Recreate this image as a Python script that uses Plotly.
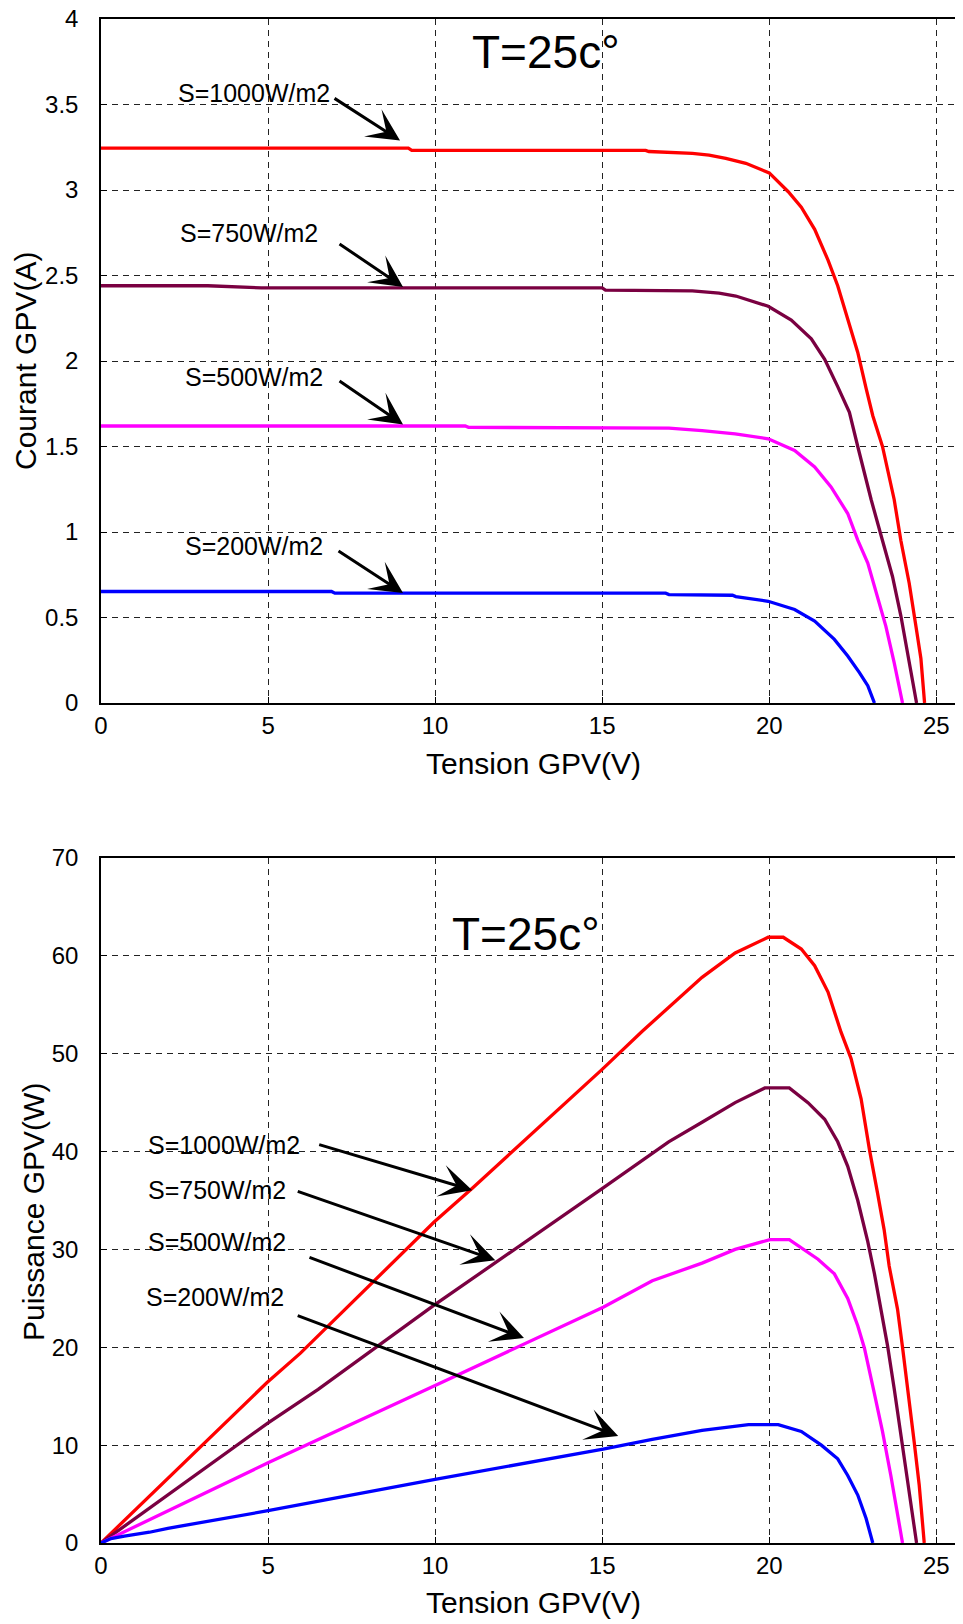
import plotly.graph_objects as go

# ---------------- I-V data (Courant vs Tension) ----------------
V_iv_1000 = [0, 9.2, 9.3, 16.3, 16.4, 17.7, 18.2, 18.7, 19.3, 20.0, 20.57, 20.96, 21.36, 21.76,
             22.05, 22.35, 22.65, 22.9, 23.1, 23.39, 23.74, 23.94, 24.19, 24.39, 24.54, 24.65]
I_1000 = [3.245, 3.245, 3.232, 3.232, 3.225, 3.214, 3.204, 3.185, 3.156, 3.10, 2.99, 2.90, 2.77, 2.59,
          2.44, 2.24, 2.05, 1.84, 1.68, 1.50, 1.19, 0.95, 0.70, 0.45, 0.26, 0.0]

V_iv_750 = [0, 3.2, 4.8, 15.0, 15.1, 17.7, 18.5, 19.0, 19.97, 20.66, 21.26, 21.66, 22.05, 22.4,
            22.65, 23.05, 23.39, 23.69, 23.94, 24.14, 24.41]
I_750 = [2.44, 2.44, 2.428, 2.428, 2.415, 2.41, 2.397, 2.38, 2.32, 2.24, 2.13, 2.01, 1.85, 1.70,
         1.50, 1.19, 0.95, 0.74, 0.51, 0.30, 0.0]

V_iv_500 = [0, 10.9, 11.0, 17.0, 17.99, 18.98, 19.97, 20.76, 21.36, 21.85, 22.35, 22.65, 22.95,
            23.24, 23.49, 23.74, 23.99]
I_500 = [1.62, 1.62, 1.612, 1.608, 1.593, 1.574, 1.545, 1.477, 1.38, 1.264, 1.108, 0.953, 0.818,
         0.624, 0.45, 0.236, 0.0]

V_iv_200 = [0, 6.9, 7.0, 16.9, 17.0, 18.9, 19.0, 19.97, 20.76, 21.36, 21.95, 22.35, 22.7, 22.95, 23.15]
I_200 = [0.652, 0.652, 0.642, 0.642, 0.634, 0.63, 0.622, 0.595, 0.547, 0.479, 0.372, 0.275, 0.178,
         0.101, 0.0]

# ---------------- P-V data (Puissance vs Tension) ----------------
V_pv_1000 = [0, 4.97, 5.97, 6.6, 9.97, 11.13, 14.03, 15.0, 16.2, 16.99, 17.99, 18.98, 19.97, 20.42,
             20.96, 21.36, 21.76, 22.15, 22.45, 22.75, 23.0, 23.24, 23.44, 23.59, 23.84, 23.99, 24.19,
             24.34, 24.49, 24.64]
P_1000 = [0, 16.4, 19.4, 21.5, 32.8, 36.3, 45.3, 48.4, 52.3, 54.7, 57.8, 60.3, 61.9, 61.9,
          60.7, 59.0, 56.3, 52.2, 49.5, 45.4, 40.2, 35.8, 32.0, 28.3, 23.9, 20.0, 14.8,
          10.3, 5.9, 0.0]

V_pv_750 = [0, 4.97, 6.5, 9.97, 15.03, 16.5, 16.99, 17.99, 18.98, 19.87, 20.6, 21.16, 21.66, 22.05,
            22.35, 22.65, 22.95, 23.15, 23.34, 23.54, 23.74, 23.94, 24.14, 24.29, 24.41]
P_750 = [0, 12.2, 15.7, 24.3, 36.3, 39.9, 41.0, 43.0, 45.0, 46.5, 46.5, 45.0, 43.3, 41.0,
         38.5, 35.0, 30.8, 27.5, 23.9, 20.2, 15.8, 11.0, 6.6, 3.2, 0.0]

V_pv_500 = [0, 5.0, 10.0, 15.03, 16.5, 17.99, 18.98, 20.02, 20.6, 21.46, 21.95, 22.35, 22.65, 22.85,
            23.14, 23.39, 23.64, 23.84, 23.99]
P_500 = [0, 8.2, 16.1, 24.1, 26.8, 28.6, 30.0, 31.0, 31.0, 29.0, 27.5, 25.0, 22.2, 19.9,
         15.4, 11.4, 6.9, 3.2, 0.0]

V_pv_200 = [0, 0.3, 0.7, 1.45, 2.0, 5.0, 10.0, 15.03, 16.5, 17.99, 19.38, 20.27, 20.96, 21.56,
            22.05, 22.35, 22.65, 22.9, 23.1]
P_200 = [0, 0.45, 0.7, 1.1, 1.5, 3.3, 6.5, 9.6, 10.6, 11.5, 12.1, 12.1, 11.4, 10.0,
         8.6, 6.9, 4.9, 2.5, 0.0]

labels = ["S=1000W/m2", "S=750W/m2", "S=500W/m2", "S=200W/m2"]
colors = ["#ff0000", "#7a0041", "#ff00ff", "#0000ff"]
x_ticks = [0, 5, 10, 15, 20, 25]
y1_ticks = [0, 0.5, 1, 1.5, 2, 2.5, 3, 3.5, 4]
y1_ticktext = ["0", "0.5", "1", "1.5", "2", "2.5", "3", "3.5", "4"]
y2_ticks = [0, 10, 20, 30, 40, 50, 60, 70]

FONT = "Liberation Sans, Arial, sans-serif"

fig = go.Figure()

iv_sets = [(V_iv_1000, I_1000), (V_iv_750, I_750), (V_iv_500, I_500), (V_iv_200, I_200)]
pv_sets = [(V_pv_1000, P_1000), (V_pv_750, P_750), (V_pv_500, P_500), (V_pv_200, P_200)]

for (vx, iy), c, lab in zip(iv_sets, colors, labels):
    fig.add_trace(go.Scatter(x=vx, y=iy, mode="lines", name=lab,
                             line=dict(color=c, width=3.3), xaxis="x", yaxis="y",
                             showlegend=False))
for (vx, py), c, lab in zip(pv_sets, colors, labels):
    fig.add_trace(go.Scatter(x=vx, y=py, mode="lines", name=lab,
                             line=dict(color=c, width=3.3), xaxis="x2", yaxis="y2",
                             showlegend=False))

# The page body has an 8px margin, so layout positions are offset by -8px
W, H = 963, 1624
OFF = 8
L = 101 - OFF
R = 963 - OFF
top1, bot1 = 19 - OFF, 703 - OFF
top2, bot2 = 858 - OFF, 1543 - OFF

grid = dict(showgrid=True, gridcolor="#222222", gridwidth=1, griddash="6px,5px",
            showline=True, linecolor="black", linewidth=1.5, zeroline=False,
            ticks="inside", ticklen=6, tickcolor="black", automargin=False,
            ticklabeloverflow="allow",
            tickfont=dict(family=FONT, size=24, color="black"))

fig.update_layout(
    width=W, height=H,
    margin=dict(l=0, r=0, t=0, b=0),
    paper_bgcolor="white", plot_bgcolor="white",
    showlegend=False,
    xaxis=dict(domain=[L / W, R / W], range=[0, 25.8], anchor="y", tickvals=x_ticks,
               mirror=True, ticklabelstandoff=0, **grid),
    yaxis=dict(domain=[1 - bot1 / H, 1 - top1 / H], range=[0, 4], anchor="x",
               tickvals=y1_ticks, ticktext=y1_ticktext, ticklabelstandoff=16, **grid),
    xaxis2=dict(domain=[L / W, R / W], range=[0, 25.8], anchor="y2", tickvals=x_ticks,
                mirror=True, ticklabelstandoff=0, **grid),
    yaxis2=dict(domain=[1 - bot2 / H, 1 - top2 / H], range=[0, 70], anchor="x2",
                tickvals=y2_ticks, ticklabelstandoff=16, **grid),
)

ann = []
# Axis titles
ann.append(dict(text="Courant GPV(A)", x=(26 - OFF) / W, y=1 - (361 - OFF) / H, xref="paper",
                yref="paper", textangle=-90, showarrow=False,
                font=dict(family=FONT, size=30, color="black"),
                xanchor="center", yanchor="middle"))
ann.append(dict(text="Tension GPV(V)", x=(533 - OFF) / W, y=1 - (764 - OFF) / H, xref="paper",
                yref="paper", showarrow=False, font=dict(family=FONT, size=30, color="black"),
                xanchor="center", yanchor="middle"))
ann.append(dict(text="Puissance GPV(W)", x=(33 - OFF) / W, y=1 - (1212 - OFF) / H, xref="paper",
                yref="paper", textangle=-90, showarrow=False,
                font=dict(family=FONT, size=30, color="black"),
                xanchor="center", yanchor="middle"))
ann.append(dict(text="Tension GPV(V)", x=(533 - OFF) / W, y=1 - (1602 - OFF) / H, xref="paper",
                yref="paper", showarrow=False, font=dict(family=FONT, size=30, color="black"),
                xanchor="center", yanchor="middle"))

# Temperature labels
ann.append(dict(text="T=25c°", x=13.32, y=3.807, xref="x", yref="y", showarrow=False,
                font=dict(family=FONT, size=46, color="black"), xanchor="center", yanchor="middle"))
ann.append(dict(text="T=25c°", x=12.72, y=62.2, xref="x2", yref="y2", showarrow=False,
                font=dict(family=FONT, size=46, color="black"), xanchor="center", yanchor="middle"))

# Irradiance labels & arrows (top plot)
top_text_pos = [(4.57, 3.567), (4.43, 2.749), (4.57, 1.906), (4.58, 0.918)]
top_tips = [(8.95, 3.29), (9.04, 2.433), (9.04, 1.629), (9.04, 0.643)]
top_offsets = [(-67, -43), (-65, -44), (-65, -44.5), (-66, -43)]
# bottom plot
bot_text_pos = [(3.67, 40.69), (3.47, 36.06), (3.47, 30.72), (3.41, 25.13)]
bot_tips = [(11.11, 36.06), (11.80, 28.9), (12.66, 20.94), (15.48, 10.93)]
bot_offsets = [(-154.5, -46), (-199, -69.3), (-216, -81.3), (-322, -121)]

for lab, (tx, ty), (hx, hy), (ox, oy) in zip(labels, top_text_pos, top_tips, top_offsets):
    ann.append(dict(text=lab, x=tx, y=ty, xref="x", yref="y", showarrow=False,
                    font=dict(family=FONT, size=25, color="black"),
                    xanchor="center", yanchor="middle"))
    ann.append(dict(text="", x=hx, y=hy, xref="x", yref="y", ax=ox, ay=oy,
                    showarrow=True, arrowhead=3, arrowsize=1.8, arrowwidth=3,
                    arrowcolor="black", standoff=0, startstandoff=0))

for lab, (tx, ty), (hx, hy), (ox, oy) in zip(labels, bot_text_pos, bot_tips, bot_offsets):
    ann.append(dict(text=lab, x=tx, y=ty, xref="x2", yref="y2", showarrow=False,
                    font=dict(family=FONT, size=25, color="black"),
                    xanchor="center", yanchor="middle"))
    ann.append(dict(text="", x=hx, y=hy, xref="x2", yref="y2", ax=ox, ay=oy,
                    showarrow=True, arrowhead=3, arrowsize=1.8, arrowwidth=3,
                    arrowcolor="black", standoff=0, startstandoff=0))

fig.update_layout(annotations=ann)

fig.write_html("out.html")
